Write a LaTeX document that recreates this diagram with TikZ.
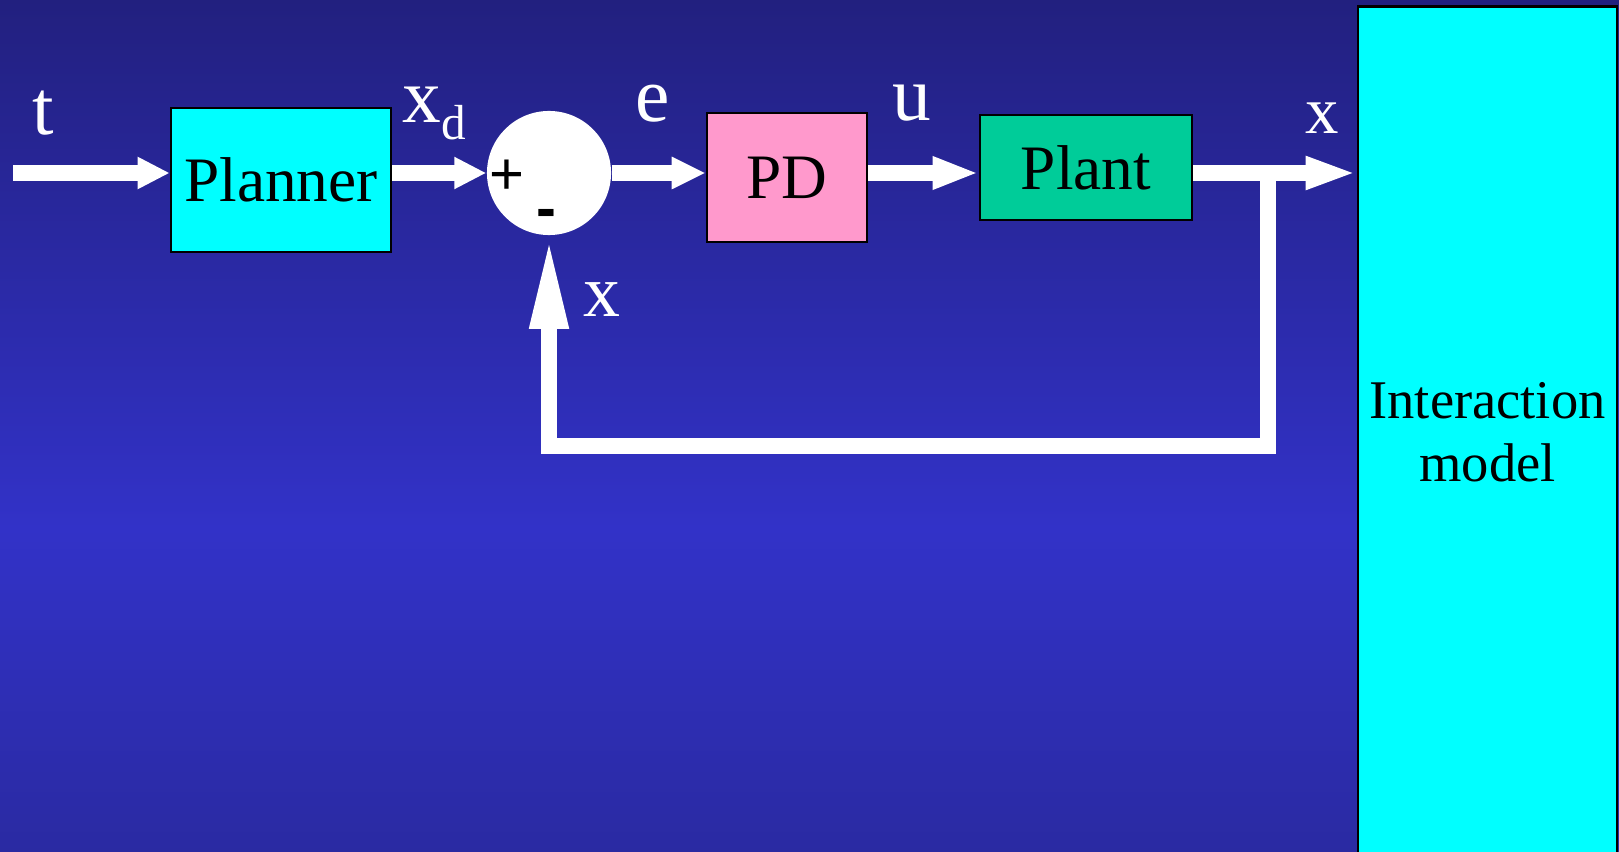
\documentclass[tikz,border=0pt]{standalone}
\usepackage{fontspec}
\setmainfont{Liberation Serif}
\newfontfamily\signfont{Liberation Sans}
\usetikzlibrary{arrows.meta,positioning}
\definecolor{bgtop}{HTML}{22207F}
\definecolor{bgmid}{HTML}{3232C8}
\definecolor{bgbot}{HTML}{2A2AA2}
\definecolor{cyanfill}{HTML}{00FFFF}
\definecolor{pdfill}{HTML}{FF99CC}
\definecolor{plantfill}{HTML}{00CC99}
\pgfdeclareverticalshading{slidebg}{100bp}{color(0bp)=(bgbot); color(25bp)=(bgbot); color(44bp)=(bgmid); color(75bp)=(bgtop); color(100bp)=(bgtop)}
\tikzset{
  blockbox/.style={draw=black,line width=0.025cm,inner sep=0pt,
    font=\fontsize{18}{21}\selectfont},
  sigarrow/.style={draw=white,line width=0.15cm,-{Triangle[length=#1,width=0.30cm]}},
  sigarrow/.default=0.32cm,
  siglabel/.style={text=white,inner sep=0pt,font=\fontsize{22}{24}\selectfont}
}

\begin{document}
\begin{tikzpicture}[x=0.01cm,y=-0.01cm]
\useasboundingbox (0,0) rectangle (1619,852);
\clip (0,0) rectangle (1619,852);
\shade[shading=slidebg] (0,0) rectangle (1619,852);
\node[blockbox,fill=cyanfill,minimum width=2.20cm,minimum height=1.44cm] (planner) at (281,180) {Planner};
\node[circle,fill=white,minimum size=1.24cm,inner sep=0pt] (sum) at (549,173) {};
\node[inner sep=0pt,font=\signfont\fontsize{17}{17}\selectfont] (plus) at (507,177) {+};
\node[inner sep=0pt,font=\signfont\bfseries\fontsize{17}{17}\selectfont] (minus) at (546,219) {-};
\node[blockbox,fill=pdfill,minimum width=1.60cm,minimum height=1.29cm] (pd) at (787,177.5) {PD};
\node[blockbox,fill=plantfill,minimum width=2.12cm,minimum height=1.05cm] (plant) at (1086,167.5) {Plant};
\node[blockbox,fill=cyanfill,minimum width=2.59cm,minimum height=8.51cm,align=center,
  font=\fontsize{15.5}{18}\selectfont] (interaction) at (1487.5,432.5) {Interaction\\model};
\node[siglabel] (tlabel) at (43,113) {t};
\node[siglabel] (xdlabel) at (434,113.5) {x\raisebox{-5pt}{\fontsize{14}{14}\selectfont d}};
\node[siglabel] (elabel) at (653,103.5) {e};
\node[siglabel] (ulabel) at (911.5,103.5) {u};
\node[siglabel,font=\fontsize{19}{21}\selectfont] (xout) at (1322,118) {x};
\node[siglabel,font=\fontsize{21}{23}\selectfont] (xback) at (602,299.5) {x};
\coordinate (tin) at (13,173);
\coordinate (branch) at (1268,173);
\draw[sigarrow] (tin) -- (tin -| planner.west);
\draw[sigarrow] (planner.east |- sum) -- (sum.west);
\draw[sigarrow=0.34cm] (sum.east) -- (sum.east -| pd.west);
\draw[sigarrow=0.46cm] (pd.east |- sum) -- (sum -| plant.west);
\draw[sigarrow=0.51cm] (plant.east |- sum) -- (sum -| interaction.west);
\draw[draw=white,line width=0.16cm,-{Triangle[length=0.93cm,width=0.35cm]}] (branch) -- ++(0,273) -| (sum.south);
\end{tikzpicture}
\end{document}
